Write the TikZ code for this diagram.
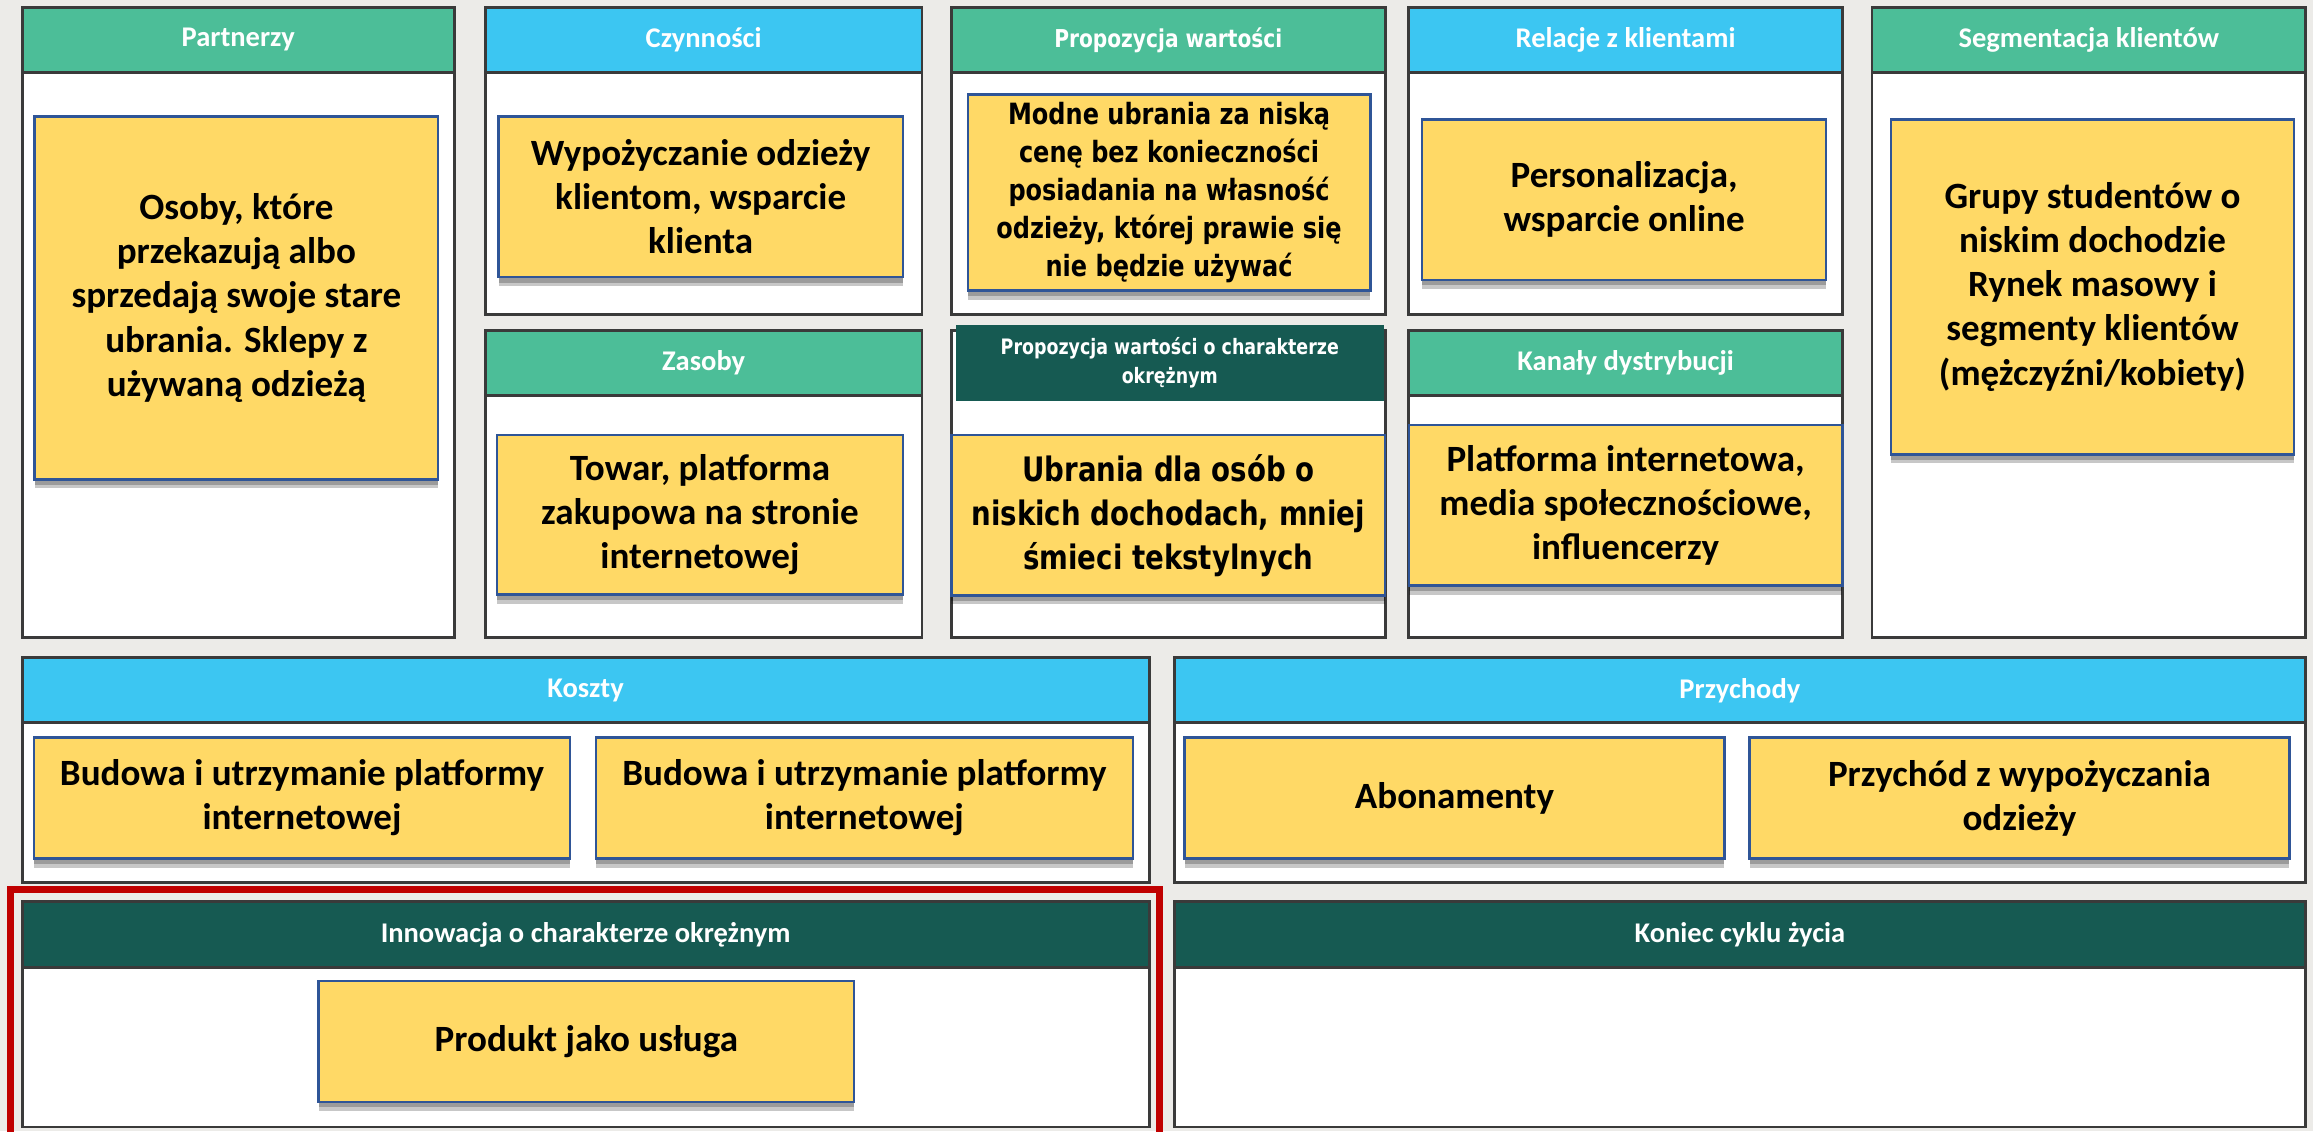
\documentclass[tikz,border=0pt]{standalone}
\usepackage{fontspec}
\usetikzlibrary{shadows}
\newfontfamily\calibri{Carlito}
\newfontfamily\verdana[FakeStretch=0.82]{DejaVu Sans}

\definecolor{bgpaper}{HTML}{ECEBE8}
\definecolor{colline}{HTML}{3A3A3A}
\definecolor{headgreen}{HTML}{4CBE98}
\definecolor{headblue}{HTML}{3CC6F2}
\definecolor{headdark}{HTML}{165A52}
\definecolor{noteyellow}{HTML}{FFD966}
\definecolor{noteblue}{HTML}{2F5597}
\definecolor{framered}{HTML}{C00000}

\tikzset{
  sz/.style 2 args={minimum width=#1*0.02cm, minimum height=#2*0.02cm},
  column/.style={draw=colline, line width=1.1pt, fill=white, inner sep=0pt},
  head/.style={column, text=white, font=\calibri\bfseries\fontsize{11}{13}\selectfont},
  greenhead/.style={head, fill=headgreen},
  bluehead/.style={head, fill=headblue},
  darkhead/.style={head, fill=headdark},
  note/.style={fill=noteyellow, draw=noteblue, line width=0.9pt, inner sep=0pt,
    align=center, font=\calibri\bfseries\fontsize{14.3}{17}\selectfont,
    drop shadow={shadow xshift=0pt, shadow yshift=-3.5pt, opacity=0.22, fill=black},
    drop shadow={shadow xshift=0pt, shadow yshift=-2pt, opacity=0.22, fill=black}},
  redframe/.style={draw=framered, line width=2.6pt, inner sep=0pt}
}

\begin{document}
\begin{tikzpicture}[x=0.02cm, y=-0.02cm]
\fill[bgpaper] (0,0) rectangle (1568,767);
\clip (0,0) rectangle (1568,767);

% columns
\node[column, sz={293}{427}] (partCol) at (161.5, 218.5) {};
\node[column, sz={296}{208}] (czynCol) at (477, 109) {};
\node[column, sz={296}{208}] (zasCol) at (477, 328) {};
\node[column, sz={294}{208}] (propCol) at (792, 109) {};
\node[column, sz={294}{208}] (okrCol) at (792, 328) {};
\node[column, sz={294}{208}] (relCol) at (1102, 109) {};
\node[column, sz={294}{208}] (kanCol) at (1102, 328) {};
\node[column, sz={294}{427}] (segCol) at (1416, 218.5) {};
\node[column, sz={764}{152}] (kosCol) at (397, 522) {};
\node[column, sz={767}{152}] (przCol) at (1179.5, 522) {};
\node[column, sz={764}{153}] (innCol) at (397, 687.5) {};
\node[column, sz={767}{153}] (konCol) at (1179.5, 687.5) {};

% headers
\node[greenhead, sz={293}{44}] (partHead) at (161.5, 27) {Partnerzy};
\node[bluehead, sz={296}{44}] (czynHead) at (477, 27) {Czynności};
\node[greenhead, sz={296}{44}] (zasHead) at (477, 246) {Zasoby};
\node[greenhead, sz={294}{44}, font=\verdana\bfseries\fontsize{9.5}{11}\selectfont] (propHead) at (792, 27) {Propozycja wartości};
\node[darkhead, draw=none, sz={290}{52}, align=center, font=\verdana\bfseries\fontsize{8.2}{11.4}\selectfont] (okrHead) at (793, 246) {Propozycja wartości o charakterze\\okrężnym};
\node[bluehead, sz={294}{44}] (relHead) at (1102, 27) {Relacje z klientami};
\node[greenhead, sz={294}{44}] (kanHead) at (1102, 246) {Kanały dystrybucji};
\node[greenhead, sz={294}{44}] (segHead) at (1416, 27) {Segmentacja klientów};
\node[bluehead, sz={764}{44}] (kosHead) at (397, 468) {Koszty};
\node[bluehead, sz={767}{44}] (przHead) at (1179.5, 468) {Przychody};
\node[darkhead, sz={764}{45}] (innHead) at (397, 633.5) {Innowacja o charakterze okrężnym};
\node[darkhead, sz={767}{45}] (konHead) at (1179.5, 633.5) {Koniec cyklu życia};

% notes
\node[note, sz={273.5}{246}] (partNote) at (160.25, 202) {Osoby, które\\przekazują albo\\sprzedają swoje stare\\ubrania. Sklepy z\\używaną odzieżą};
\node[note, sz={274}{109}] (czynNote) at (475, 133.5) {Wypożyczanie odzieży\\klientom, wsparcie\\klienta};
\node[note, sz={275}{108}] (zasNote) at (474.5, 349) {Towar, platforma\\zakupowa na stronie\\internetowej};
\node[note, sz={273}{133}, font=\verdana\bfseries\fontsize{11.3}{14.7}\selectfont] (propNote) at (792.5, 130.5) {Modne ubrania za niską\\cenę bez konieczności\\posiadania na własność\\odzieży, której prawie się\\nie będzie używać};
\node[note, sz={294}{108.6}, font=\verdana\bfseries\fontsize{13}{17}\selectfont] (okrNote) at (792, 349.3) {Ubrania dla osób o\\niskich dochodach, mniej\\śmieci tekstylnych};
\node[note, sz={274}{109}] (relNote) at (1101, 135.5) {Personalizacja,\\wsparcie online};
\node[note, sz={294}{109}] (kanNote) at (1102, 342.5) {Platforma internetowa,\\media społecznościowe,\\influencerzy};
\node[note, sz={273}{227}] (segNote) at (1418.5, 194.5) {Grupy studentów o\\niskim dochodzie\\Rynek masowy i\\segmenty klientów\\(mężczyźni/kobiety)};
\node[note, sz={363.5}{82}] (kosNoteA) at (204.75, 541) {Budowa i utrzymanie platformy\\internetowej};
\node[note, sz={364}{82}] (kosNoteB) at (586, 541) {Budowa i utrzymanie platformy\\internetowej};
\node[note, sz={366}{82}] (przNoteA) at (986, 541) {Abonamenty};
\node[note, sz={366}{82}] (przNoteB) at (1369, 541) {Przychód z wypożyczania\\odzieży};
\node[note, sz={363}{82}] (innNote) at (397.5, 706) {Produkt jako usługa};

% highlight
\node[redframe, sz={779}{180}] (innFrame) at (396.5, 693) {};
\end{tikzpicture}
\end{document}
